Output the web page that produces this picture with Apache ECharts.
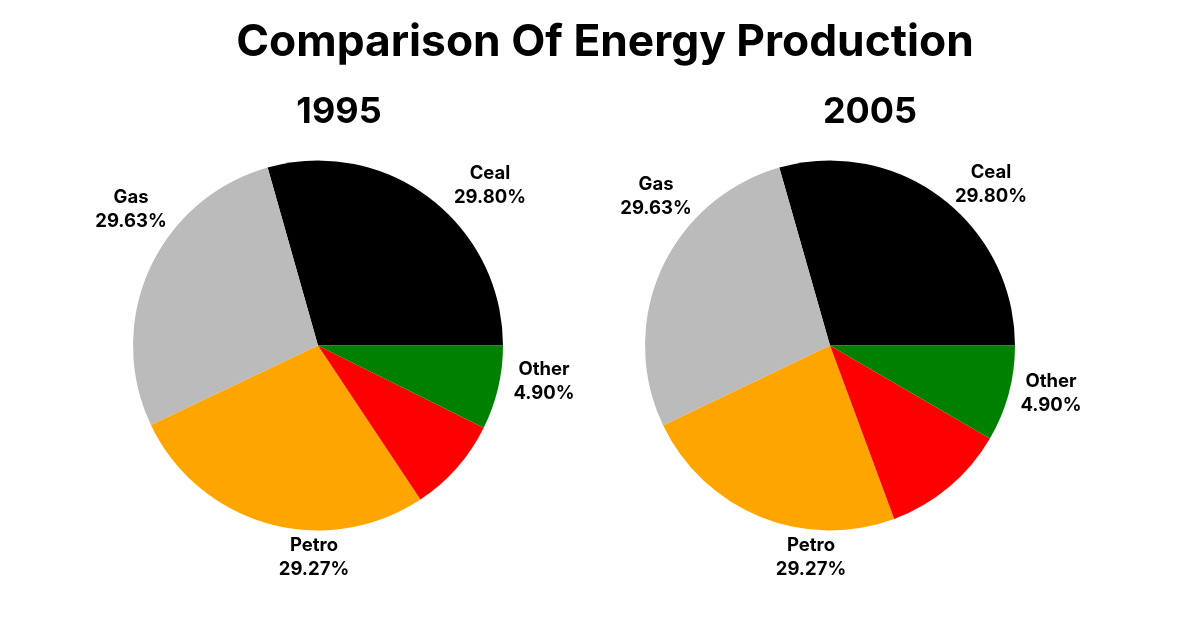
<!DOCTYPE html>
<html>
<head>
<meta charset="utf-8">
<script src="https://cdn.jsdelivr.net/npm/echarts@6/dist/echarts.min.js"></script>
<style>
html,body{margin:0;padding:0;background:#fff;}
#chart{width:1200px;height:628px;}
</style>
</head>
<body>
<div id="chart"></div>
<script>
// ---- data ----
const chartTitle = 'Comparison Of Energy Production';
const years = ['1995', '2005'];
const categories = ['Coal', 'Gas', 'Petro', 'Nuclear', 'Other'];
// slice shares (percent)
const values1995 = [29.39, 27.67, 27.28, 8.33, 7.33];
const values2005 = [29.42, 27.69, 23.53, 10.97, 8.39];
// label texts as printed in the chart (identical on both pies)
const labelNames = ['Ceal', 'Gas', 'Petro', '', 'Other'];
const labelPercents = ['29.80%', '29.63%', '29.27%', '', '4.90%'];

// ---- styles / layout ----
const colors = ['#000000', '#bbbbbb', '#ffa500', '#ff0000', '#008000'];
const pieCenters = [[318, 345.5], [830, 345.5]];
const pieRadius = 185;
// label block centers relative to each pie center
const labelOffsets = [
  [[172, -160], [-187, -136], [-4, 212], null, [226, 36]],
  [[161, -161], [-174, -149], [-19, 212], null, [221, 48]]
];
const FONT = 'Inter, "Noto Sans", sans-serif';

const chart = echarts.init(document.getElementById('chart'), null, {renderer: 'canvas'});

function makeSeries(idx, values) {
  return {
    type: 'pie',
    center: pieCenters[idx],
    radius: pieRadius,
    startAngle: 0,
    clockwise: false,
    silent: true,
    animation: false,
    avoidLabelOverlap: false,
    label: {
      show: true,
      position: 'outside',
      fontFamily: FONT,
      fontSize: 18.5,
      fontWeight: 700,
      lineHeight: 24,
      color: '#000',
      formatter: function (p) {
        const n = labelNames[p.dataIndex];
        return n ? n + '\n' + labelPercents[p.dataIndex] : '';
      }
    },
    labelLine: {show: false},
    labelLayout: function (params) {
      const off = labelOffsets[idx][params.dataIndex];
      if (!off) return {};
      return {
        x: pieCenters[idx][0] + off[0],
        y: pieCenters[idx][1] + off[1],
        align: 'center',
        verticalAlign: 'middle'
      };
    },
    itemStyle: {borderWidth: 0},
    emphasis: {disabled: true},
    data: categories.map((c, i) => ({
      name: c,
      value: values[i],
      itemStyle: {color: colors[i]},
      label: {show: !!labelNames[i]}
    }))
  };
}

chart.setOption({
  backgroundColor: '#ffffff',
  animation: false,
  title: [
    {
      text: chartTitle, left: 605, top: 18, textAlign: 'center', padding: 0,
      textStyle: {fontFamily: FONT, fontSize: 44.3, fontWeight: 700, color: '#000', lineHeight: 50}
    },
    {
      text: years[0], left: 339, top: 93, textAlign: 'center', padding: 0,
      textStyle: {fontFamily: FONT, fontSize: 36, fontWeight: 700, color: '#000', lineHeight: 38}
    },
    {
      text: years[1], left: 870, top: 93, textAlign: 'center', padding: 0,
      textStyle: {fontFamily: FONT, fontSize: 36, fontWeight: 700, color: '#000', lineHeight: 38}
    }
  ],
  series: [makeSeries(0, values1995), makeSeries(1, values2005)]
});
</script>
</body>
</html>
